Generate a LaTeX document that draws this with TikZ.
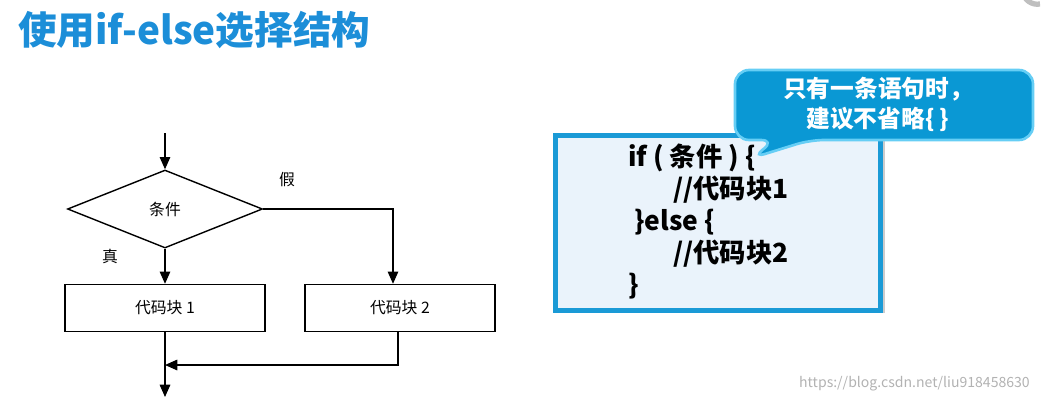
\documentclass[tikz,border=0pt]{standalone}
\usepackage{fontspec}
\setmainfont{Noto Sans CJK SC}
\newfontfamily\cjk{Noto Sans CJK SC}
\usetikzlibrary{shapes.geometric, arrows.meta}
\definecolor{titleblue}{HTML}{1C8ED8}
\definecolor{codeblue}{HTML}{1A9AD6}
\definecolor{codefill}{HTML}{EAF3FB}
\definecolor{tipblue}{HTML}{0A98D4}

\begin{document}
\begin{tikzpicture}[x=0.02cm, y=-0.02cm,
    flowbox/.style={draw, thick, minimum width=4cm, minimum height=0.94cm, font=\cjk\small},
    cond/.style={draw, thick, diamond, aspect=2.5, minimum width=3.9cm, minimum height=1.56cm, inner sep=0pt, font=\cjk\small},
    flow/.style={thick, -{Triangle[length=7pt, width=6pt]}},
    codeline/.style={anchor=west, font=\cjk\bfseries\fontsize{15}{18}\selectfont}
  ]
    \useasboundingbox (0,0) rectangle (1042,403);

    \node[anchor=west, font=\cjk\bfseries\fontsize{22}{26}\selectfont, text=titleblue] (title) at (12,30) {使用if-else选择结构};
    \draw[gray!50, line width=3pt] (1040,4) arc (80:240:15);

    % flow chart
    \coordinate (start) at (165,133);
    \node[cond] (c) at (165,209) {条件};
    \node[flowbox] (b1) at (165,308) {代码块 1};
    \node[flowbox, minimum width=3.8cm] (b2) at (400,308) {代码块 2};
    \node[font=\cjk\small] (no) at (287,180) {假};
    \node[font=\cjk\small] (yes) at (110,256) {真};
    \coordinate (end) at (165,397);
    \coordinate (join) at (165,365);

    \draw[flow] (start) -- (c.north);
    \draw[flow] (c.south) -- (b1.north);
    \draw[flow] (c.east) -| (b2.north -| 393,0);
    \draw[flow] (b1.south) -- (end);
    \draw[flow] (b2.south -| 398,0) |- (join);

    % code box
    \fill[gray!40] (558,138) rectangle (885,313);
    \node[draw=codeblue, line width=3pt, fill=codefill, minimum width=6.5cm, minimum height=3.5cm, anchor=north west] (code) at (553,133) {};
    \node[codeline] (l1) at (622,158) {if ( 条件 ) \{};
    \node[codeline] (l2) at (667,190) {//代码块1};
    \node[codeline] (l3) at (628,222) {\}else \{};
    \node[codeline] (l4) at (667,254) {//代码块2};
    \node[codeline] (l5) at (622,286) {\}};

    % callout
    \coordinate (tip) at (752,158);
    \filldraw[draw=cyan!60, line width=1.5pt, fill=tipblue, rounded corners=8pt]
      (735,70) -- (1033,70) -- (1033,140) -- (810,140) -- (tip) -- (775,140) -- (735,140) -- cycle;
    \node[text=white, font=\cjk\bfseries\fontsize{13.5}{17}\selectfont, align=center] (note) at (878,104) {只有一条语句时，\\建议不省略\{ \}};

    \node[anchor=east, text=gray!60, font=\cjk\footnotesize] (mark) at (1036,384) {https://blog.csdn.net/liu918458630};
\end{tikzpicture}
\end{document}
